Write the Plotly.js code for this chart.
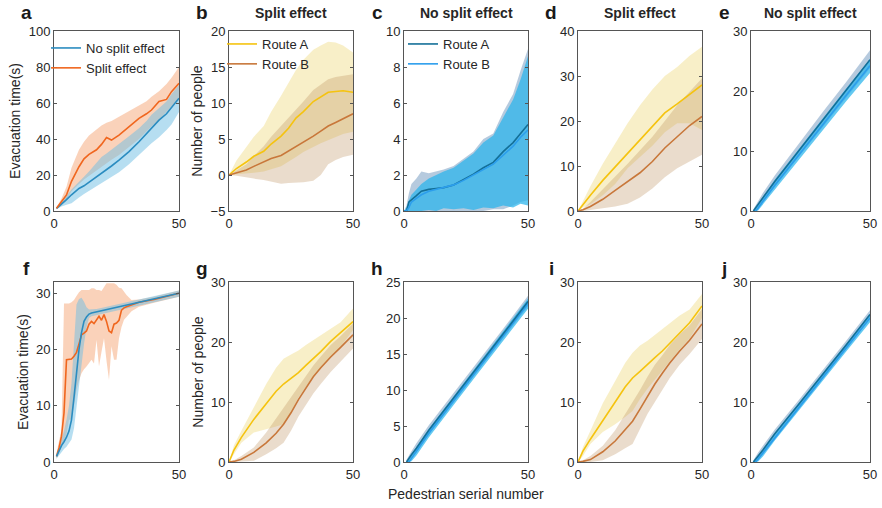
<!DOCTYPE html>
<html>
<head>
<meta charset="utf-8">
<script src="https://cdn.plot.ly/plotly-3.0.1.min.js"></script>
<style>html,body{margin:0;padding:0;background:#fff;}#chart{width:882px;height:508px;}</style>
</head>
<body>
<div id="chart"></div>
<script>
// ---------- Panel a (evacuation time, scenario 1) ----------
const xA = [1,3,5,7,10,12,14,17,19,21,23,26,30,34,37,39,42,45,47,50];
const aNoSplitMean  = [1.5,3.8,6.3,9,12.5,14,16,19,20.8,22.5,25,28.3,33,38.5,43,46.5,50.5,54,57.5,62.6];
const aNoSplitLow   = [1,2.5,3.5,4.3,7.5,9.5,11.5,14,15.5,17,19,21.5,26,31,35,37.6,41,45,48,55];
const aNoSplitHigh  = [2,5,8.5,12,16,19,22,26.5,30,32,34,37,41.5,46,50,53.5,57,60.9,65,70];
const aSplitMean    = [1.5,5,8.9,16.5,24.6,29,31.5,34,37,40.8,39.4,42.2,46.9,51.5,54,56.1,60.8,62,66.3,71];
const aSplitLow     = [1,3,6.1,11,15,17.5,20,22.5,24.6,26.5,28.5,31.1,35.5,40,44,46.9,50.5,55,58,61.7];
const aSplitHigh    = [2,7,13.5,24,34,38.5,42,45.5,47.5,49,50,52.4,55.5,58.5,61,63.5,66.5,70.5,74,80];

// ---------- Panel b (split effect, routes) ----------
const xB = [0,3,7,10,14,17,21,24,27,30,34,37,40,43,46,50];
const bRouteAMean = [0,0.9,1.8,2.6,3.3,4.3,5.4,6.5,7.9,8.8,10.2,10.9,11.5,11.6,11.7,11.5];
const bRouteAHigh = [0,2,3.9,5.3,6.8,8.8,11,12.8,14.6,16,17.4,18,18.5,18.4,18,17];
const bRouteALow  = [0,0.1,0.2,0.3,0.5,0.8,1.2,1.8,2.5,3.2,3.9,4.4,4.9,5.3,5.7,6];
const bRouteBMean = [0,0.3,0.7,1.2,1.8,2.3,2.7,3.3,4,4.6,5.4,6.1,6.8,7.3,7.8,8.5];
const bRouteBHigh = [0,0.6,1.5,2.6,4,5.3,6.8,8,9,10.2,11.8,12.6,13.3,13.6,13.8,14];
const bRouteBLow  = [0,-0.1,-0.3,-0.5,-0.7,-0.9,-1.2,-1.1,-1.0,-1.0,-0.8,0,1.5,2.1,2.5,2.8];

// ---------- Panel c (no split effect, routes) ----------
const xC = [0,1,2,3,5,7,10,13,16,20,24,28,32,36,40,44,47,50];
const cRouteAMean = [0,0,0.5,0.6,0.85,1.1,1.2,1.25,1.3,1.45,1.75,2.05,2.4,2.7,3.3,3.8,4.3,4.8];
const cRouteAHigh = [0,0.3,1,1.5,1.8,2.2,2.1,2.2,2.3,2.5,2.9,3.3,4.0,4.3,5.5,6.5,7.8,9];
const cRouteALow  = [0,0,0,0,0,0,0,0,0,0,0,0,0,0.1,0.1,0.3,0.5,0.6];
const cRouteBMean = [0,0,0.2,0.5,0.7,0.9,1.1,1.2,1.3,1.45,1.7,2,2.3,2.6,3.1,3.6,4.1,4.5];
const cRouteBHigh = [0,0.2,0.6,0.9,1.2,1.5,1.8,2.0,2.2,2.4,2.8,3.2,3.8,4.2,5.2,6.2,7.3,8.6];
const cRouteBLow  = [0,0,0,0,0,0,0.05,0,0.15,0.1,0.15,0.05,0.2,0.15,0.3,0.2,0.4,0.3];

// ---------- Panel d (split effect, routes) ----------
const xD = [0,2,5,10,15,20,25,30,35,40,45,50];
const dRouteAMean = [0,1.5,3.5,6.8,9.8,13,16,18.8,21.8,23.8,26,28];
const dRouteAHigh = [0,2.2,5.5,10.5,15,19.5,23.5,27,30,32,34.5,36.5];
const dRouteALow  = [0,0.8,1.5,3.5,6,9.5,12,14.5,17.5,19.5,19.5,18];
const dRouteBMean = [0,0.3,1,2.6,4.6,6.5,8.5,11,14,16.5,19,21];
const dRouteBHigh = [0,0.5,2,4.8,7.8,10.5,13.5,16.5,20,23.5,26.5,29.5];
const dRouteBLow  = [0,0,0.2,0.6,1,1.6,3,5,7.5,9.5,11,12.5];

// ---------- Panel e (no split effect, routes) ----------
const xE = [1,2,3,5,10,20,30,40,50];
const eRouteAMean = [0,0.6,1,2.2,4.9,10,15.1,20.1,25.2];
const eRouteAHigh = [0.3,1,1.6,3,5.9,11.2,16.4,21.5,26.8];
const eRouteALow  = [0,0.2,0.5,1.5,4,9,14,18.9,23.8];
const eRouteBMean = [0,0,0.5,1.6,4.3,9.3,14.4,19.3,24.2];
const eRouteBHigh = [0,0.4,1,2.3,5.2,10.3,15.4,20.4,25.3];
const eRouteBLow  = [0,0,0.1,1,3.5,8.4,13.4,18.3,23];

// ---------- Panel f (evacuation time, scenario 2) ----------
const xF = [1,2,3,4,5,6,7,8,9,10,11,12,13,14,15,16,17,18,19,20,21,22,23,24,25,26,27,28,29,31,34,40,45,50];
const fNoSplitMean = [1,2,2.9,3.6,4.4,5.5,7.5,11.5,16,20,23,25,25.8,26.3,26.5,26.6,26.7,26.8,26.9,27.0,27.1,27.2,27.3,27.4,27.5,27.6,27.7,27.8,27.9,28.1,28.4,28.9,29.5,30.0];
const fNoSplitHigh = [1.3,2.8,3.9,5.5,7.5,10,14,22,28,29,29.2,28.5,27.5,27.1,27.1,27.1,27.2,27.3,27.4,27.5,27.6,27.7,27.8,27.9,28,28.1,28.2,28.3,28.4,28.6,28.9,29.4,30,30.5];
const fNoSplitLow  = [0.6,1.2,1.8,2.3,2.7,3.3,4,6,10,14,17.5,21,24,25.6,25.9,26,26.1,26.2,26.3,26.4,26.5,26.6,26.7,26.8,26.9,27,27.1,27.2,27.3,27.5,27.8,28.3,28.9,29.4];
const fSplitMean   = [1,2.5,4.6,8.7,18.2,18.2,18.3,18.8,19.5,21,22.6,22.9,23.3,24.5,25,24.6,25.2,25.9,25.2,26.2,25,23.3,23,24.5,24.7,25.2,27,27.4,27.6,27.9,28.4,28.9,29.5,30];
const fSplitHigh   = [1.6,3.5,5.8,28.2,28.2,28.2,28.4,28.8,29.5,30.2,30.6,30.6,30.6,30.6,30.9,30.9,30.6,30.6,30.4,31.2,31.8,31.8,31.8,31.8,31.5,31,30.9,30.3,29.7,28.8,28.9,29.4,30,30.5];
const fSplitLow    = [0.6,1.5,2.6,3.9,5,7.5,7.5,10,12.9,14.5,15.8,16.5,17,17.5,18.2,17.5,21.7,17,19.6,22,18,14.6,20.6,18.2,18.2,22,24,25.3,25.8,26.8,27.6,28.3,28.9,29.4];

// ---------- Panel g (split effect, routes) ----------
const xG = [0,2,5,10,15,19,22,25,28,31,34,37,41,45,50];
const gRouteAMean = [0,2,4.1,7.1,9.7,11.8,13,13.9,14.9,16.1,17.2,18.4,20.1,21.6,23.4];
const gRouteAHigh = [0,2.8,5.2,9.1,13,15.7,17.2,17.9,18.6,19.5,20.3,21.1,22.3,23.3,25.6];
const gRouteALow  = [0,1.2,3.2,4.9,5.5,5.9,6.3,8.3,10.8,12.5,14.2,15.6,17.5,19.2,22];
const gRouteBMean = [0,0.1,0.45,1.6,3.2,4.8,6.3,8.2,10.4,12.3,14.2,15.7,17.5,19.1,21.2];
const gRouteBHigh = [0,0.3,1,2.4,4.9,7.3,9.1,10.9,12.7,14.4,16.1,17.6,19.5,21,23.1];
const gRouteBLow  = [0,0,0,0.2,1.3,2.3,3.2,5.2,7.6,9.5,11.4,13,15,16.8,18.9];

// ---------- Panel h (no split effect, routes) ----------
const xH = [1,2,3,5,10,20,30,40,50];
const hRouteAMean = [0,0.6,1,1.9,4.4,8.9,13.3,17.8,22.3];
const hRouteAHigh = [0.3,1,1.5,2.6,5.1,9.6,14,18.5,23.1];
const hRouteALow  = [0,0.2,0.5,1.3,3.8,8.3,12.7,17.2,21.6];
const hRouteBMean = [0,0,0.5,1.5,4,8.5,13,17.5,22];
const hRouteBHigh = [0,0.4,1,2.1,4.6,9.1,13.6,18.1,22.7];
const hRouteBLow  = [0,0,0.1,0.9,3.4,7.9,12.4,16.9,21.3];

// ---------- Panel i (split effect, routes) ----------
const xI = [0,2,5,10,15,19,22,25,28,31,34,37,41,45,50];
const iRouteAMean = [0,1.8,3.8,7,10,12.5,14,15.1,16.3,17.4,18.5,19.8,21.5,23.2,26];
const iRouteAHigh = [0,2.5,5.2,9.8,13.5,16.5,18.2,19.4,20.2,21.2,22.2,23.2,24.4,25.4,28];
const iRouteALow  = [0,1,3,5,6.3,7.5,8.5,10.5,12.2,13.8,15.2,16.8,18.8,20.6,24];
const iRouteBMean = [0,0.1,0.4,1.7,3.5,5.3,6.8,8.8,11,13,14.8,16.5,18.5,20.3,23];
const iRouteBHigh = [0,0.3,1,2.7,5.3,8,9.8,12,14.2,16.2,17.8,19.5,21.3,22.8,25.5];
const iRouteBLow  = [0,0,0,0.3,1.3,2.3,3,5.5,8,10,12,14,16.2,18,20.5];

// ---------- Panel j (no split effect, routes) ----------
const xJ = [1,2,3,5,10,20,30,40,50];
const jRouteAMean = [0,0.6,1,2,4.7,9.6,14.5,19.5,24.6];
const jRouteAHigh = [0.3,1,1.6,2.7,5.4,10.3,15.2,20.2,25.3];
const jRouteALow  = [0,0.2,0.5,1.4,4.1,9,13.9,18.9,23.9];
const jRouteBMean = [0,0,0.5,1.5,4.2,9.2,14.1,19,24];
const jRouteBHigh = [0,0.4,1,2.1,4.8,9.8,14.7,19.7,24.7];
const jRouteBLow  = [0,0,0.1,0.9,3.6,8.6,13.5,18.4,23.3];

// ---------- Labels ----------
const panelLetters = ['a','b','c','d','e','f','g','h','i','j'];
const panelTitles  = ['', 'Split effect', 'No split effect', 'Split effect', 'No split effect', '', '', '', '', ''];
const yTitles      = ['Evacuation time(s)', 'Number of people', '', '', '', 'Evacuation time(s)', 'Number of people', '', '', ''];
const xTitle       = 'Pedestrian serial number';
const xTickVals    = [0, 50];
const yRanges = [[0,100],[-5,20],[0,10],[0,40],[0,30],[0,32],[0,30],[0,25],[0,30],[0,30]];
const yDtick  = [20,5,2,10,10,10,10,5,10,10];
const legendNames = { noSplit: 'No split effect', split: 'Split effect', routeA: 'Route A', routeB: 'Route B' };

// ---------- Styling ----------
const W = 882, H = 508;
const FONT = 'Liberation Sans, Arial, Helvetica, sans-serif';
const colX = [[54,179],[229,353],[404,528],[578,702],[751,870]];
const rowY = [[31,211],[282,462]];
const C = {
  blue: '#2b8cc0', blueFill: 'rgba(110,190,228,0.5)',
  orange: '#f0661e', orangeFill: 'rgba(245,160,110,0.48)',
  yellow: '#f5c30f', yellowFill: 'rgba(236,212,110,0.38)',
  brown: '#c8773a', brownFill: 'rgba(190,145,95,0.32)',
  teal: '#136f98', tealFill: 'rgba(110,150,190,0.5)',
  sky: '#2c9eec', skyFill: 'rgba(40,180,235,0.72)'
};

const traces = [];
function ax(n){ return n === 1 ? '' : String(n); }
function band(n, xs, lo, hi, color){
  traces.push({
    x: xs.concat(xs.slice().reverse()),
    y: hi.concat(lo.slice().reverse()),
    xaxis: 'x' + ax(n), yaxis: 'y' + ax(n),
    type: 'scatter', mode: 'lines', fill: 'toself', fillcolor: color,
    line: { width: 0, color: color }, hoverinfo: 'skip', showlegend: false
  });
}
function line(n, xs, ys, color, name, legend){
  const t = {
    x: xs, y: ys, xaxis: 'x' + ax(n), yaxis: 'y' + ax(n),
    type: 'scatter', mode: 'lines', line: { width: 1.6, color: color },
    name: name || '', showlegend: !!legend
  };
  if (legend) t.legend = legend;
  traces.push(t);
}

// a
band(1, xA, aSplitLow, aSplitHigh, C.orangeFill);
band(1, xA, aNoSplitLow, aNoSplitHigh, C.blueFill);
line(1, xA, aNoSplitMean, C.blue, legendNames.noSplit, 'legend');
line(1, xA, aSplitMean, C.orange, legendNames.split, 'legend');
// b
band(2, xB, bRouteALow, bRouteAHigh, C.yellowFill);
band(2, xB, bRouteBLow, bRouteBHigh, C.brownFill);
line(2, xB, bRouteAMean, C.yellow, legendNames.routeA, 'legend2');
line(2, xB, bRouteBMean, C.brown, legendNames.routeB, 'legend2');
// c
band(3, xC, cRouteALow, cRouteAHigh, C.tealFill);
band(3, xC, cRouteBLow, cRouteBHigh, C.skyFill);
line(3, xC, cRouteAMean, C.teal, legendNames.routeA, 'legend3');
line(3, xC, cRouteBMean, C.sky, legendNames.routeB, 'legend3');
// d
band(4, xD, dRouteALow, dRouteAHigh, C.yellowFill);
band(4, xD, dRouteBLow, dRouteBHigh, C.brownFill);
line(4, xD, dRouteAMean, C.yellow);
line(4, xD, dRouteBMean, C.brown);
// e
band(5, xE, eRouteALow, eRouteAHigh, C.tealFill);
band(5, xE, eRouteBLow, eRouteBHigh, C.skyFill);
line(5, xE, eRouteBMean, C.sky);
line(5, xE, eRouteAMean, C.teal);
// f
band(6, xF, fSplitLow, fSplitHigh, C.orangeFill);
band(6, xF, fNoSplitLow, fNoSplitHigh, C.blueFill);
line(6, xF, fSplitMean, C.orange);
line(6, xF, fNoSplitMean, C.blue);
// g
band(7, xG, gRouteALow, gRouteAHigh, C.yellowFill);
band(7, xG, gRouteBLow, gRouteBHigh, C.brownFill);
line(7, xG, gRouteAMean, C.yellow);
line(7, xG, gRouteBMean, C.brown);
// h
band(8, xH, hRouteALow, hRouteAHigh, C.tealFill);
band(8, xH, hRouteBLow, hRouteBHigh, C.skyFill);
line(8, xH, hRouteBMean, C.sky);
line(8, xH, hRouteAMean, C.teal);
// i
band(9, xI, iRouteALow, iRouteAHigh, C.yellowFill);
band(9, xI, iRouteBLow, iRouteBHigh, C.brownFill);
line(9, xI, iRouteAMean, C.yellow);
line(9, xI, iRouteBMean, C.brown);
// j
band(10, xJ, jRouteALow, jRouteAHigh, C.tealFill);
band(10, xJ, jRouteBLow, jRouteBHigh, C.skyFill);
line(10, xJ, jRouteBMean, C.sky);
line(10, xJ, jRouteAMean, C.teal);

const legendFont = { size: 13, family: FONT, color: '#262626' };
const layout = {
  width: W, height: H,
  margin: { l: 0, r: 0, t: 0, b: 0 },
  paper_bgcolor: '#ffffff', plot_bgcolor: '#ffffff',
  font: { family: FONT, size: 13, color: '#262626' },
  annotations: [],
  legend:  { x: 46/W,  y: 1 - 33/H, xanchor: 'left', yanchor: 'top', bgcolor: 'rgba(0,0,0,0)', font: legendFont, tracegroupgap: 0, itemwidth: 30 },
  legend2: { x: 222/W, y: 1 - 29/H, xanchor: 'left', yanchor: 'top', bgcolor: 'rgba(0,0,0,0)', font: legendFont, tracegroupgap: 0, itemwidth: 30 },
  legend3: { x: 403/W, y: 1 - 29/H, xanchor: 'left', yanchor: 'top', bgcolor: 'rgba(0,0,0,0)', font: legendFont, tracegroupgap: 0, itemwidth: 30 }
};

for (let k = 0; k < 10; k++) {
  const n = k + 1, row = Math.floor(k / 5), col = k % 5;
  const [x0, x1] = colX[col], [y0, y1] = rowY[row];
  const axisCommon = {
    showline: true, linecolor: '#555555', linewidth: 1, mirror: 'ticks',
    ticks: 'inside', ticklen: 3, tickwidth: 1, tickcolor: '#555555',
    showgrid: false, zeroline: false, fixedrange: true,
    tickfont: { family: FONT, size: 13, color: '#262626' }
  };
  layout['xaxis' + ax(n)] = Object.assign({}, axisCommon, {
    domain: [x0 / W, x1 / W], anchor: 'y' + ax(n), range: [0, 50],
    tickmode: 'array', tickvals: xTickVals, ticktext: xTickVals.map(String),
    ticklabeloverflow: 'allow'
  });
  layout['yaxis' + ax(n)] = Object.assign({}, axisCommon, {
    domain: [1 - y1 / H, 1 - y0 / H], anchor: 'x' + ax(n), range: yRanges[k],
    tick0: 0, dtick: yDtick[k],
    title: { text: yTitles[k], font: { family: FONT, size: 14, color: '#262626' }, standoff: 4 }
  });
  layout.annotations.push({
    xref: 'paper', yref: 'paper', x: (col === 0 ? 26 : x0 - 27) / W, y: 1 - (row === 0 ? 13 : 268) / H,
    text: '<b>' + panelLetters[k] + '</b>', showarrow: false,
    font: { family: FONT, size: 19, color: '#1a1a1a' }, xanchor: 'center', yanchor: 'middle'
  });
  if (panelTitles[k]) {
    layout.annotations.push({
      xref: 'paper', yref: 'paper', x: ((x0 + x1) / 2) / W, y: 1 - 13 / H,
      text: '<b>' + panelTitles[k] + '</b>', showarrow: false,
      font: { family: FONT, size: 14, color: '#262626' }, xanchor: 'center', yanchor: 'middle'
    });
  }
}
layout.annotations.push({
  xref: 'paper', yref: 'paper', x: 466 / W, y: 1 - 494 / H,
  text: xTitle, showarrow: false, font: { family: FONT, size: 14, color: '#262626' },
  xanchor: 'center', yanchor: 'middle'
});

Plotly.newPlot('chart', traces, layout, { displayModeBar: false, staticPlot: true });
</script>
</body>
</html>
